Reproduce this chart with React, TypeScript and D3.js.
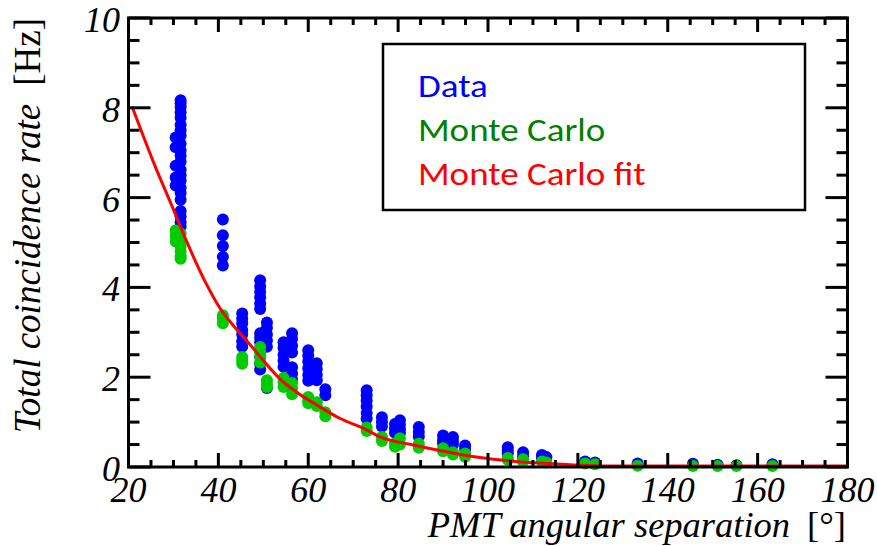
import React from "react";
import * as d3 from "d3";

// ---- data ----
const xTickValues = [20, 40, 60, 80, 100, 120, 140, 160, 180];
const yTickValues = [0, 2, 4, 6, 8, 10];

// Data (blue): angle of each column and the rates measured there
const dataAngles = [30.5, 31.6, 41.0, 45.3, 49.3, 50.8, 54.5, 56.4, 60.0, 61.9, 63.8, 73.0, 76.4, 79.3, 80.4, 84.6, 90.0, 92.2, 94.9, 104.4, 107.8, 112.0, 113.0, 121.6, 123.8, 133.3, 145.6, 151.1, 155.3, 163.3];
const dataRates = [
  [7.34, 7.12, 6.71, 6.45, 6.27],
  [8.17, 8.1, 8.02, 7.9, 7.78, 7.62, 7.5, 7.38, 7.2, 7.05, 6.93, 6.8, 6.62, 6.5, 6.38, 6.22, 6.1, 5.95, 5.7, 5.58, 5.45, 5.35],
  [5.51, 5.16, 4.92, 4.68, 4.49],
  [3.42, 3.3, 3.2, 3.05, 2.95, 2.8, 2.68],
  [4.16, 4.02, 3.9, 3.78, 3.64, 3.52, 2.98, 2.88, 2.78, 2.62, 2.45, 2.3, 2.17],
  [3.22, 3.1, 2.95, 2.82, 2.68, 1.76],
  [2.78, 2.65, 2.5, 2.37, 2.23],
  [2.98, 2.85, 2.7, 2.55, 2.22, 2.08, 1.95],
  [2.6, 2.48, 2.35, 2.2, 2.05, 1.92],
  [2.31, 2.18, 2.05, 1.93],
  [1.73, 1.6],
  [1.71, 1.6, 1.48, 1.35, 1.2, 1.08],
  [1.11, 1.0, 0.9],
  [0.96, 0.86, 0.76],
  [1.04, 0.94, 0.84, 0.76],
  [0.89, 0.78, 0.68],
  [0.7, 0.6, 0.53],
  [0.67, 0.58, 0.5],
  [0.48, 0.4],
  [0.44, 0.36, 0.3],
  [0.33, 0.24],
  [0.27, 0.2],
  [0.22],
  [0.12],
  [0.1],
  [0.08],
  [0.07],
  [0.05],
  [0.04],
  [0.06],
];

// Monte Carlo (green)
const mcAngles = dataAngles;
const mcRates = [
  [5.27, 5.15, 5.02],
  [5.2, 5.05, 4.92, 4.8, 4.7, 4.64],
  [3.38, 3.3, 3.2],
  [2.45, 2.37, 2.3],
  [2.67, 2.55, 2.45, 2.33],
  [1.93, 1.85, 1.78],
  [1.98, 1.88, 1.78],
  [1.87, 1.75, 1.62],
  [1.56, 1.48, 1.42],
  [1.44, 1.36],
  [1.22, 1.13],
  [0.88, 0.8],
  [0.67, 0.58],
  [0.53, 0.45],
  [0.64, 0.5],
  [0.52, 0.43],
  [0.42, 0.35],
  [0.33, 0.28],
  [0.3, 0.23],
  [0.2, 0.16],
  [0.17, 0.13],
  [0.12],
  [0.1],
  [0.08],
  [0.06],
  [0.03],
  [0.02],
  [0.02],
  [0.02],
  [0.02],
];

// Monte Carlo fit (red)
const fitAngles = [20.8, 25.6, 30.1, 32.7, 37.0, 40.4, 44.2, 47.1, 50.1, 53.8, 57.5, 61.9, 67.1, 72.3, 76.0, 83.4, 90.8, 98.2, 105.6, 113.0, 120.4, 130, 140, 160, 180];
const fitRates = [8.03, 6.78, 5.71, 5.08, 4.14, 3.53, 3.05, 2.72, 2.36, 1.95, 1.66, 1.38, 1.08, 0.86, 0.67, 0.49, 0.34, 0.21, 0.13, 0.08, 0.04, 0.02, 0.02, 0.02, 0.02];

const legendLabels = ["Data", "Monte Carlo", "Monte Carlo fit"];
const legendColors = ["#0000ff", "#008000", "#ff0000"];

export default function App() {
  const W = 877, H = 546;
  const x = d3.scaleLinear().domain([20, 180]).range([128.5, 847.5]);
  const y = d3.scaleLinear().domain([0, 10]).range([467, 18]);

  const xMinor = d3.range(20, 180.01, 5);
  const yMinor = d3.range(0, 10.01, 0.5);

  const dataPts: [number, number][] = [];
  dataAngles.forEach((a, i) => dataRates[i].forEach((r) => dataPts.push([a, r])));
  const mcPts: [number, number][] = [];
  mcAngles.forEach((a, i) => mcRates[i].forEach((r) => mcPts.push([a, r])));

  const fitLine = d3
    .line<number>()
    .x((_, i) => x(fitAngles[i]))
    .y((d) => y(d))
    .curve(d3.curveMonotoneX);

  const serif = "'Liberation Serif', 'Times New Roman', serif";
  const x0 = x(20), x1 = x(180), y0 = y(0), y1 = y(10);

  return (
    <div style={{ position: "fixed", left: 0, top: 0, background: "#fff" }}>
      <svg width={W} height={H} style={{ display: "block" }}>
        <rect width={W} height={H} fill="#fff" />
        {/* legend box */}
        <rect x={383} y={44} width={422} height={166} fill="#fff" stroke="#000" strokeWidth={2.5} />
        {legendLabels.map((l, i) => (
          <text
            key={l}
            transform={`translate(418,${97 + i * 44}) scale(1,0.9)`}
            fill={legendColors[i]}
            fontFamily="Carlito, Lato, 'Open Sans', sans-serif"
            fontSize={37}
          >
            {l}
          </text>
        ))}
        {/* points */}
        {dataPts.map((p, i) => (
          <circle key={"d" + i} cx={x(p[0])} cy={y(p[1])} r={6} fill="#0000ff" />
        ))}
        {mcPts.map((p, i) => (
          <circle key={"m" + i} cx={x(p[0])} cy={y(p[1])} r={6} fill="#00cc00" />
        ))}
        {/* fit */}
        <path d={fitLine(fitRates) || ""} fill="none" stroke="#ff0000" strokeWidth={3} />
        {/* frame */}
        <rect x={x0} y={y1} width={x1 - x0} height={y0 - y1} fill="none" stroke="#000" strokeWidth={3} />
        {/* x ticks bottom & top */}
        {xMinor.map((v) => {
          const major = v % 20 === 0;
          const len = major ? 14 : 7;
          return (
            <g key={"xt" + v}>
              <line x1={x(v)} x2={x(v)} y1={y0} y2={y0 - len} stroke="#000" strokeWidth={3} />
              <line x1={x(v)} x2={x(v)} y1={y1} y2={y1 + len} stroke="#000" strokeWidth={3} />
            </g>
          );
        })}
        {yMinor.map((v) => {
          const major = Math.abs(v % 2) < 1e-6;
          const len = major ? 22 : 11;
          return (
            <g key={"yt" + v}>
              <line x1={x0} x2={x0 + len} y1={y(v)} y2={y(v)} stroke="#000" strokeWidth={3} />
              <line x1={x1} x2={x1 - len} y1={y(v)} y2={y(v)} stroke="#000" strokeWidth={3} />
            </g>
          );
        })}
        {/* tick labels */}
        {xTickValues.map((v) => (
          <text key={"xl" + v} x={x(v)} y={502} textAnchor="middle" fontFamily={serif} fontStyle="italic" fontSize={36}>
            {v}
          </text>
        ))}
        {yTickValues.map((v) => (
          <text key={"yl" + v} x={120} y={y(v) + 14} textAnchor="end" fontFamily={serif} fontStyle="italic" fontSize={36}>
            {v}
          </text>
        ))}
        {/* axis titles */}
        <text x={846} y={537} textAnchor="end" fontFamily={serif} fontSize={36.5}>
          <tspan fontStyle="italic">PMT angular separation</tspan>
          <tspan dx={17}>[°]</tspan>
        </text>
        <text transform="translate(40,18) rotate(-90)" textAnchor="end" fontFamily={serif} fontSize={37}>
          <tspan fontStyle="italic">Total coincidence rate</tspan>
          <tspan dx={18}>[Hz]</tspan>
        </text>
      </svg>
    </div>
  );
}
